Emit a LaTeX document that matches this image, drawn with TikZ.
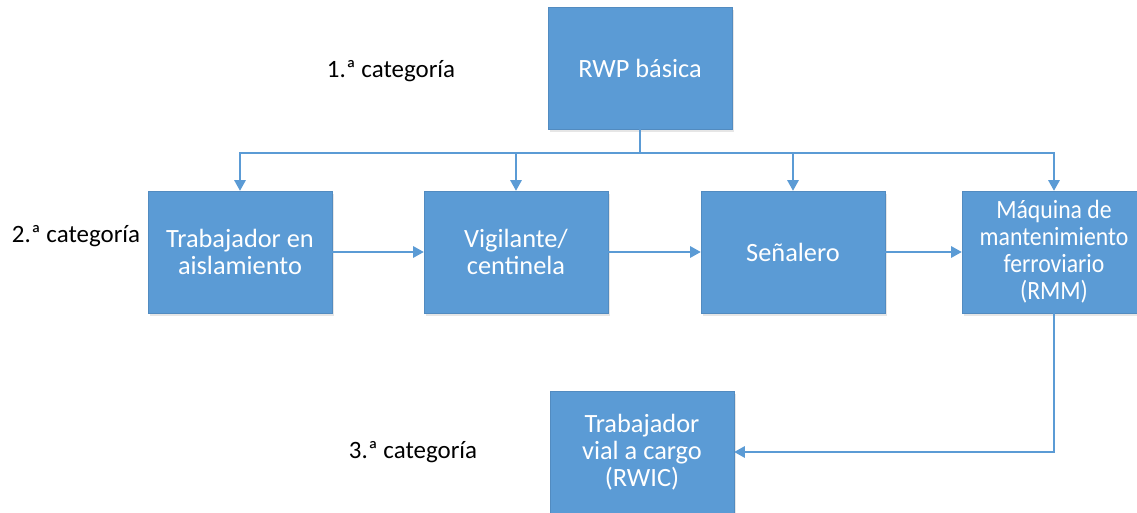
\documentclass[tikz,border=0pt]{standalone}
\usepackage{fontspec}
\setmainfont{Carlito}
\newfontfamily\estrecha{Carlito}[FakeStretch=0.9]
\usetikzlibrary{arrows.meta,shadows}
\definecolor{azul}{HTML}{5B9BD5}
\begin{document}
\begin{tikzpicture}[x=.02cm, y=-.02cm,
  caja/.style={fill=azul, draw=azul!90!black, line width=.3pt, text=white, align=center,
    minimum width=3.68cm, minimum height=2.44cm, inner sep=2pt,
    font=\fontsize{15}{15.4}\selectfont,
    drop shadow={opacity=.2, shadow xshift=1pt, shadow yshift=-1.5pt}},
  etiqueta/.style={font=\fontsize{14.2}{16}\selectfont},
  linea/.style={draw=azul, line width=.8pt},
  flecha/.style={linea, -{Triangle[length=6pt,width=6.5pt]}}]

\useasboundingbox (0,0) rectangle (1137,513);
\clip (0,0) rectangle (1137,513);

\node[caja] (rwp) at (640,68) {RWP básica};

\node[caja] (tra) at (240,252) {Trabajador en\\aislamiento};
\node[caja] (vig) at (516,252) {Vigilante/\\centinela};
\node[caja] (sen) at (793,252) {Señalero};
\node[caja, font=\estrecha\fontsize{15}{15.4}\selectfont] (maq) at (1054,252) {Máquina de\\mantenimiento\\ferroviario\\(RMM)};

\node[caja] (rwic) at (642,452) {Trabajador\\vial a cargo\\(RWIC)};

\node[etiqueta] (cat1) at (391,71) {1.ª categoría};
\node[etiqueta] (cat2) at (76,236) {2.ª categoría};
\node[etiqueta] (cat3) at (413,452) {3.ª categoría};

\coordinate (bus) at (640,153);
\draw[linea] (rwp.south) -- (bus);
\draw[flecha] (bus) -| (tra.north);
\draw[flecha] (bus) -| (vig.north);
\draw[flecha] (bus) -| (sen.north);
\draw[flecha] (bus) -| (maq.north);

\draw[flecha] (tra.east) -- (vig.west);
\draw[flecha] (vig.east) -- (sen.west);
\draw[flecha] (sen.east) -- (maq.west);

\draw[flecha] (maq.south) |- (rwic.east);
\end{tikzpicture}
\end{document}
